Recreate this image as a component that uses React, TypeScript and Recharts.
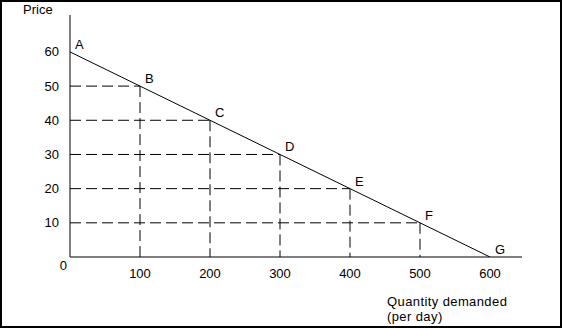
import React from "react";
import { LineChart, Line, XAxis, YAxis, ReferenceLine, LabelList, Label } from "recharts";

const pointNames = ["A", "B", "C", "D", "E", "F", "G"];
const quantities = [0, 100, 200, 300, 400, 500, 600];
const prices = [60, 50, 40, 30, 20, 10, 0];
const xTicks = [0, 100, 200, 300, 400, 500, 600];
const yTicks = [10, 20, 30, 40, 50, 60];

const data = pointNames.map((name, i) => ({ name, q: quantities[i], p: prices[i] }));
const guides = data.filter((d) => d.q > 0 && d.p > 0);

const FONT = "Arial, 'Liberation Sans', sans-serif";

const XTick = (props: any) => {
  const { x, y, payload } = props;
  if (payload.value === 0) {
    return (
      <text x={x - 3} y={y} dy={13} textAnchor="end" fontSize={13} fontFamily={FONT} fill="#000">
        0
      </text>
    );
  }
  return (
    <text x={x} y={y} dy={21} textAnchor="middle" fontSize={13} fontFamily={FONT} fill="#000">
      {payload.value}
    </text>
  );
};

const YTick = (props: any) => {
  const { x, y, payload } = props;
  return (
    <text x={x - 11} y={y} dy={4.5} textAnchor="end" fontSize={13} fontFamily={FONT} fill="#000">
      {payload.value}
    </text>
  );
};

const PointLabel = (props: any) => {
  const { x, y, value } = props;
  return (
    <text x={x + 5} y={y - 3} fontSize={13} fontFamily={FONT} fill="#000">
      {value}
    </text>
  );
};

export default function App() {
  return (
    <div style={{ position: "absolute", left: 0, top: 0, width: 562, height: 328, background: "#fff" }}>
      <LineChart
        width={562}
        height={328}
        data={data}
        margin={{ top: 15, right: 40, left: 0, bottom: 0 }}
      >
        <XAxis
          dataKey="q"
          type="number"
          domain={[0, 645.7]}
          ticks={xTicks}
          tickLine={false}
          tickSize={0}
          tickMargin={0}
          tick={<XTick />}
          height={71}
          stroke="#000"
          axisLine={{ stroke: "#000" }}
          allowDataOverflow
        >
          <Label
            content={(p: any) => {
              const vb = p.viewBox;
              return (
                <g>
                  <text x={vb.x + 317} y={vb.y + 49} fontSize={13} letterSpacing={0.4} fontFamily={FONT} fill="#000">
                    Quantity demanded
                  </text>
                  <text x={vb.x + 317} y={vb.y + 64} fontSize={13} letterSpacing={0.4} fontFamily={FONT} fill="#000">
                    (per day)
                  </text>
                </g>
              );
            }}
          />
        </XAxis>
        <YAxis
          dataKey="p"
          type="number"
          domain={[0, 70.8]}
          ticks={yTicks}
          tickLine={false}
          tickSize={0}
          tickMargin={0}
          tick={<YTick />}
          width={70}
          axisLine={{ stroke: "#000" }}
          allowDataOverflow
        >
          <Label
            content={(p: any) => {
              const vb = p.viewBox;
              return (
                <text x={23} y={vb.y - 1} fontSize={13} fontFamily={FONT} fill="#000">
                  Price
                </text>
              );
            }}
          />
        </YAxis>
        {guides.map((g) => (
          <ReferenceLine
            key={"h" + g.name}
            segment={[{ x: 0, y: g.p }, { x: g.q, y: g.p }]}
            stroke="#000"
            strokeDasharray="11 5"
          />
        ))}
        {guides.map((g) => (
          <ReferenceLine
            key={"v" + g.name}
            segment={[{ x: g.q, y: g.p }, { x: g.q, y: 0 }]}
            stroke="#000"
            strokeDasharray="11 5"
          />
        ))}
        <Line
          dataKey="p"
          stroke="#000"
          strokeWidth={1}
          dot={false}
          isAnimationActive={false}
        >
          <LabelList dataKey="name" content={<PointLabel />} />
        </Line>
      </LineChart>
      <div
        style={{
          position: "absolute",
          left: 0,
          top: 0,
          width: 562,
          height: 328,
          boxSizing: "border-box",
          border: "2px solid #000",
          pointerEvents: "none",
        }}
      />
    </div>
  );
}
